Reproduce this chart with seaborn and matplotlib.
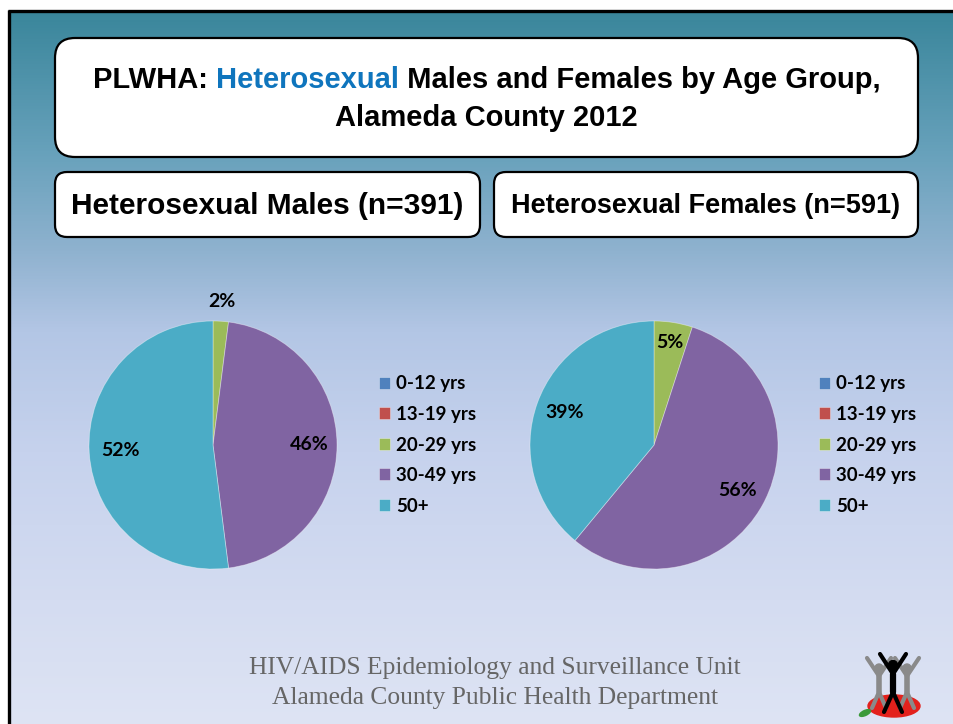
import numpy as np
import matplotlib.pyplot as plt
import seaborn as sns
from matplotlib.patches import FancyBboxPatch, Ellipse, Circle
from matplotlib.colors import LinearSegmentedColormap

# data
age_groups = ['0-12 yrs', '13-19 yrs', '20-29 yrs', '30-49 yrs', '50+']
males_pct = [0, 0, 2, 46, 52]
females_pct = [0, 0, 5, 56, 39]
group_colors = ['#4f81bd', '#c0504d', '#9bbb59', '#8064a2', '#4bacc6']

title_parts = ['PLWHA: ', 'Heterosexual', ' Males and Females by Age Group,']
title_line2 = 'Alameda County 2012'
males_title = 'Heterosexual Males (n=391)'
females_title = 'Heterosexual Females (n=591)'
footer = ['HIV/AIDS Epidemiology and Surveillance Unit',
          'Alameda County Public Health Department']

sns.set_style('white')
palette = sns.color_palette(group_colors)
plt.rcParams['font.family'] = ['Liberation Sans', 'DejaVu Sans']
plt.rcParams['text.color'] = 'black'

W, H = 954, 724
fig = plt.figure(figsize=(W / 100, H / 100), dpi=100)
fig.patch.set_facecolor('white')

bg = fig.add_axes([0, 0, 1, 1])
bg.set_xlim(0, W)
bg.set_ylim(H, 0)
bg.axis('off')

# slide background gradient
top = 11
stops = [(0.0, '#3a869b'), ((150 - top) / (H - top), '#67a1bb'),
         ((250 - top) / (H - top), '#8fb2cf'), ((330 - top) / (H - top), '#b3c6e5'),
         ((450 - top) / (H - top), '#c6d2ed'), ((600 - top) / (H - top), '#d4dcf1'),
         (1.0, '#dee4f4')]
cmap = LinearSegmentedColormap.from_list('slide', stops)
bg.imshow(np.linspace(0, 1, 512).reshape(-1, 1), cmap=cmap, aspect='auto',
          extent=[9, W + 2, H + 2, top], origin='upper', zorder=0)
bg.set_xlim(0, W)
bg.set_ylim(H, 0)
bg.plot([9, 9], [top - 1, H + 2], color='black', lw=2.4, zorder=1, solid_capstyle='butt')
bg.plot([8, W + 2], [top, top], color='black', lw=2.4, zorder=1, solid_capstyle='butt')


def rbox(x0, y0, x1, y1, r):
    bg.add_patch(FancyBboxPatch((x0, y0), x1 - x0, y1 - y0,
                                boxstyle=f'round,pad=0,rounding_size={r}',
                                fc='white', ec='black', lw=1.6, zorder=2))


rbox(55, 38, 918, 157, 20)
rbox(55, 172, 480, 237, 12)
rbox(494, 172, 918, 237, 12)

# title with blue word
renderer = fig.canvas.get_renderer()
tkw = dict(fontsize=21, fontweight='bold', va='center', ha='left', zorder=3)
pieces = [bg.text(0, 80, p, color=c, **tkw)
          for p, c in zip(title_parts, ['black', '#0f75bd', 'black'])]
widths = [p.get_window_extent(renderer).width for p in pieces]
x = 486.5 - sum(widths) / 2
for p, w in zip(pieces, widths):
    p.set_x(x)
    x += w
bg.text(486.5, 118, title_line2, fontsize=21, fontweight='bold',
        ha='center', va='center', zorder=3)

bg.text(267.5, 206, males_title, fontsize=21.5, fontweight='bold',
        ha='center', va='center', zorder=3)
bg.text(706, 206, females_title, fontsize=19.5, fontweight='bold',
        ha='center', va='center', zorder=3)


def draw_pie(cx, cy, r, values, label_dist, legend_x):
    ax = fig.add_axes([(cx - r) / W, (H - cy - r) / H, 2 * r / W, 2 * r / H])
    wedges, _ = ax.pie(values, colors=palette, startangle=90, counterclock=False,
                       radius=1, wedgeprops=dict(linewidth=0.6, edgecolor=(1, 1, 1, 0.4)))
    ax.set_xlim(-1, 1)
    ax.set_ylim(-1, 1)
    ax.axis('off')
    k = 0
    for w, v in zip(wedges, values):
        if v == 0:
            continue
        ang = np.deg2rad((w.theta1 + w.theta2) / 2)
        d = label_dist[k]
        k += 1
        ax.text(d * np.cos(ang), d * np.sin(ang), f'{v}%', ha='center', va='center',
                fontsize=14, fontweight='bold', color='black',
                family=['Lato', 'DejaVu Sans'])
    leg = ax.legend(wedges, age_groups, loc='center left',
                    bbox_to_anchor=(legend_x / W, (H - 445) / H),
                    bbox_transform=fig.transFigure,
                    frameon=False, borderpad=0, borderaxespad=0,
                    handlelength=0.6, handleheight=0.6, handletextpad=0.3,
                    labelspacing=0.72, prop=dict(family=['Lato', 'DejaVu Sans'],
                                                 weight='bold', size=13.5))
    for t in leg.get_texts():
        t.set_color('black')
    return ax


draw_pie(213, 445, 124, males_pct, [1.16, 0.78, 0.75], 379)
draw_pie(654, 445, 124, females_pct, [0.84, 0.77, 0.77], 819)

# footer
for txt, y in zip(footer, [668, 698]):
    bg.text(495, y, txt, fontsize=18.4, color='#666666', ha='center', va='center',
            family=['Liberation Serif', 'DejaVu Serif'], zorder=3)

# small logo
bg.add_patch(Ellipse((894, 706), 52, 22, color='#e3211c', zorder=3))
bg.add_patch(Ellipse((865, 713), 12, 5, angle=-25, color='#3a9a3a', zorder=3))
for dx, col in [(-14, '#8a8a8a'), (14, '#8a8a8a')]:
    bx = 893 + dx
    bg.plot([bx - 12, bx, bx + 12], [658, 676, 658], color=col, lw=3, zorder=3)
    bg.plot([bx, bx], [676, 692], color=col, lw=4, zorder=3)
    bg.plot([bx - 7, bx, bx + 7], [708, 692, 708], color=col, lw=3, zorder=3)
    bg.add_patch(Circle((bx, 668), 4, color=col, zorder=3))
bg.plot([880, 893, 906], [654, 674, 654], color='black', lw=3, zorder=4)
bg.plot([893, 893], [674, 692], color='black', lw=4.5, zorder=4)
bg.plot([884, 893, 902], [712, 692, 712], color='black', lw=3, zorder=4)
bg.add_patch(Circle((893, 665), 4.5, color='black', zorder=4))

fig.savefig('out.png', dpi=100)
